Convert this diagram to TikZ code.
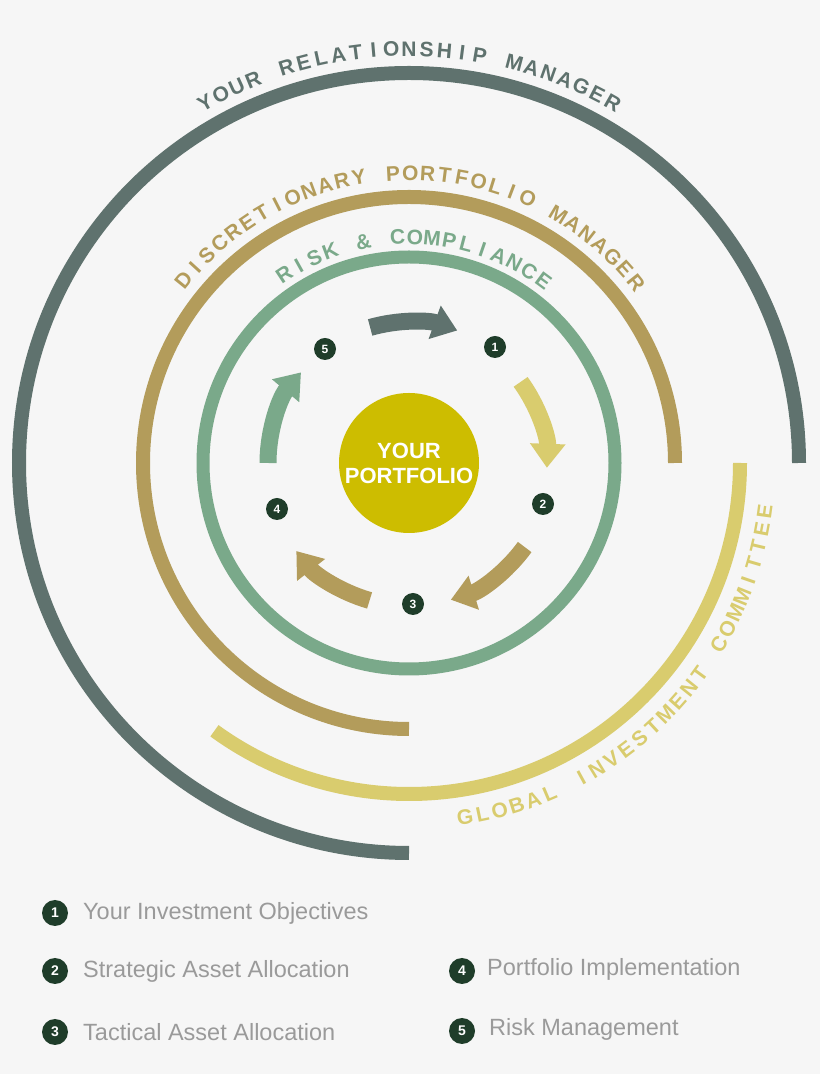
\documentclass[tikz,border=0pt]{standalone}
\usepackage{fontspec}
\setmainfont{Liberation Sans}
\usetikzlibrary{arrows.meta,calc}
\definecolor{bg}{HTML}{F6F6F6}
\definecolor{rmgray}{HTML}{5F726E}
\definecolor{dtan}{HTML}{B39C5B}
\definecolor{rgreen}{HTML}{7AA98A}
\definecolor{gyel}{HTML}{D9CC6E}
\definecolor{cyel}{HTML}{CDBD00}
\definecolor{numg}{HTML}{1F3D2A}
\definecolor{legt}{HTML}{9A9A9A}
\newcommand{\myringfont}{\bfseries\fontsize{21}{21}\selectfont}
\newlength{\mytot}\newlength{\mycum}\newlength{\mycw}
% #1 radius, #2 start angle, #3 end angle, #4 rot offset, #5 colour, #6 list
\newcommand{\myarctext}[6]{%
  \global\mytot=0pt
  \foreach \ch in {#6} {\setbox0\hbox{\myringfont\ch}\global\advance\mytot by \wd0 \global\advance\mytot by 3pt}%
  \global\advance\mytot by -3pt
  \global\mycum=0pt
  \foreach \ch in {#6} {%
    \setbox0\hbox{\myringfont\ch}\global\mycw=\wd0
    \pgfmathsetmacro{\ang}{#2+((\mycum+0.5*\mycw)/\mytot)*(#3-#2)}%
    \node[text=#5,font=\myringfont,inner sep=0pt,
      rotate=\ang+#4] at ($(C)+(\ang:#1)$) {\ch};
    \global\advance\mycum by \mycw \global\advance\mycum by 3pt
  }}
\begin{document}
\begin{tikzpicture}[x=1pt,y=1pt,
  ring/.style={line width=14pt},
  num/.style={circle,fill=numg,text=white,inner sep=0pt,minimum size=22pt,font=\bfseries\fontsize{12}{12}\selectfont},
  lnum/.style={circle,fill=numg,text=white,inner sep=0pt,minimum size=26pt,font=\bfseries\fontsize{14}{14}\selectfont},
  legtxt/.style={anchor=west,text=legt,font=\fontsize{23.5}{24}\selectfont,inner sep=0pt},
  cyc/.style={line width=17pt,-{Triangle[width=34pt,length=24pt]}}]
\fill[bg] (0,0) rectangle (820,1074);
\useasboundingbox (0,0) rectangle (820,1074);
\coordinate (C) at (409,611);
% rings
\draw[ring,rmgray] (C) ++(0:390) arc[start angle=0,end angle=270,radius=390];
\draw[ring,dtan] (C) ++(0:266) arc[start angle=0,end angle=270,radius=266];
\draw[ring,gyel] (C) ++(0:331) arc[start angle=0,end angle=-126,radius=331];
\draw[line width=13pt,rgreen] (C) circle[radius=206];
% ring labels
\myarctext{414}{119.5}{60.5}{-90}{rmgray}{Y,O,U,R,~,R,E,L,A,T,I,O,N,S,H,I,P,~,M,A,N,A,G,E,R}
\myarctext{290}{141}{38.5}{-90}{dtan}{D,I,S,C,R,E,T,I,O,N,A,R,Y,~,P,O,R,T,F,O,L,I,O,~,M,A,N,A,G,E,R}
\myarctext{226}{123.5}{53.5}{-90}{rgreen}{R,I,S,K,~,\&,~,C,O,M,P,L,I,A,N,C,E}
\myarctext{359}{-81}{-7.8}{90}{gyel}{G,L,O,B,A,L,~,I,N,V,E,S,T,M,E,N,T,~,C,O,M,M,I,T,T,E,E}
% centre
\node[circle,fill=cyel,minimum size=140pt,inner sep=0pt,text=white,align=center,
  font=\bfseries\fontsize{22}{25}\selectfont] (port) at (C) {YOUR\\PORTFOLIO};
% cycle arrows
\draw[cyc,rmgray] (C) ++(106:141) arc[start angle=106,end angle=70,radius=141];
\draw[cyc,gyel] (C) ++(36:138) arc[start angle=36,end angle=-2,radius=138];
\draw[cyc,dtan] (C) ++(-36:143) arc[start angle=-36,end angle=-73,radius=143];
\draw[cyc,dtan] (C) ++(-106:143) arc[start angle=-106,end angle=-142,radius=143];
\draw[cyc,rgreen] (C) ++(180:141) arc[start angle=180,end angle=140,radius=141];
% numbers
\node[num] (n1) at (495,727) {1};
\node[num] (n2) at (543,570) {2};
\node[num] (n3) at (413,470) {3};
\node[num] (n4) at (277,565) {4};
\node[num] (n5) at (325,725) {5};
% legend
\node[lnum] (l1) at (55,161) {1};
\node[legtxt] (t1) at (83,161) {Your Investment Objectives};
\node[lnum] (l2) at (55,103) {2};
\node[legtxt] (t2) at (83,103) {Strategic Asset Allocation};
\node[lnum] (l3) at (55,42) {3};
\node[legtxt] (t3) at (83,42) {Tactical Asset Allocation};
\node[lnum] (l4) at (462,103) {4};
\node[legtxt] (t4) at (487,105) {Portfolio Implementation};
\node[lnum] (l5) at (462,43) {5};
\node[legtxt] (t5) at (489,45) {Risk Management};
\end{tikzpicture}
\end{document}
